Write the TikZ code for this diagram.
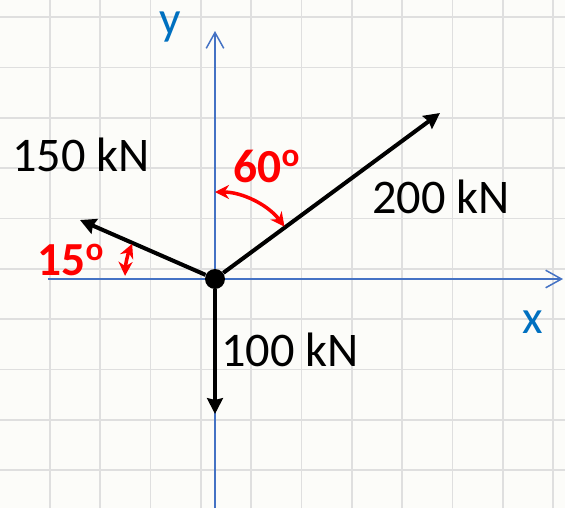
\documentclass[tikz,border=0pt]{standalone}
\usepackage{fontspec}
\setmainfont{Carlito}
\usetikzlibrary{arrows.meta}
\definecolor{axblue}{RGB}{68,114,196}
\definecolor{lblblue}{RGB}{0,112,192}
\definecolor{paper}{RGB}{252,252,249}
\tikzset{
  grd/.style={draw=gray!25,line width=1pt},
  ax/.style={draw=axblue,line width=0.85pt,-{Straight Barb[length=9pt,width=10pt]}},
  frc/.style={draw=black,line width=2.3pt,-{Stealth[length=9pt,width=9pt,inset=1pt]}},
  ang/.style={draw=red,line width=2pt,{Stealth[length=8pt,width=8pt]}-{Stealth[length=8pt,width=8pt]}},
  lbl/.style={font=\fontsize{27.5}{32}\selectfont,text=black},
  alb/.style={font=\fontsize{27}{32}\selectfont\bfseries,text=red},
  axl/.style={font=\fontsize{27}{32}\selectfont,text=lblblue},
}
\begin{document}
\begin{tikzpicture}[x=0.02cm,y=0.02cm]
  \useasboundingbox[fill=paper] (-215,-229) rectangle (350,279);
  % grid
  \foreach \i in {0,...,10} \draw[grd] ({-165+50.3*\i},-229) -- ({-165+50.3*\i},279);
  \foreach \j in {0,...,9} \draw[grd] (-215,{-191+50.3*\j}) -- (350,{-191+50.3*\j});
  % axes
  \coordinate (O) at (0,0);
  \coordinate (xs) at (-167,0); \coordinate (xe) at (348,0);
  \coordinate (ys) at (0,-229); \coordinate (ye) at (0,248);
  \draw[ax] (xs) -- (xe);
  \draw[ax] (ys) -- (ye);
  \node[axl] (xl) at (318,-43) {x};
  \node[axl] (yl) at (-45,252) {y};
  % forces
  \node[circle,fill=black,inner sep=0pt,minimum size=0.4cm] (pt) at (O) {};
  \coordinate (F200) at (225,166);
  \coordinate (F150) at (-135,59);
  \coordinate (F100) at (0,-135);
  \draw[frc] (pt) -- (F200);
  \draw[frc] (pt) -- (F150);
  \draw[frc] (pt) -- (F100);
  \node[lbl] (l150) at (-134,124) {150 kN};
  \node[lbl] (l200) at (226,82) {200 kN};
  \node[lbl] (l100) at (75,-71) {100 kN};
  % angles
  \coordinate (a60) at (90:87);
  \coordinate (a15) at (157:90);
  \draw[ang] (a60) arc[start angle=90,end angle=37,radius=87];
  \draw[ang] (a15) arc[start angle=157,end angle=178,radius=90];
  \node[alb] (t60) at (52,113) {60\textsuperscript{o}};
  \node[alb] (t15) at (-144,19) {15\textsuperscript{o}};
\end{tikzpicture}
\end{document}
